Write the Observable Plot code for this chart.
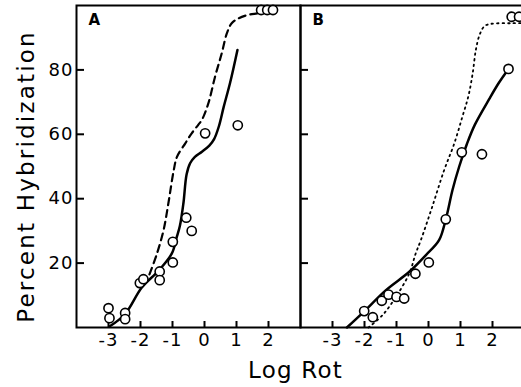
<!DOCTYPE html>
<html><head><meta charset="utf-8">
<script src="https://cdn.jsdelivr.net/npm/d3@7"></script>
<script src="https://cdn.jsdelivr.net/npm/@observablehq/plot@0.6"></script>
<style>body{margin:0;background:#fff}</style>
</head><body><div id="chart"></div>
<script>
const panels = ["A", "B"];
const xTicks = [-3, -2, -1, 0, 1, 2];
const xTickLabels = ["-3", "-2", "-1", "0", "1", "2"];
const yTicks = [20, 40, 60, 80];
const yLabel = "Percent Hybridization";
const xLabel = "Log Rot";

// Panel A observed points
const ptsA_x = [-3.0, -2.97, -2.48, -2.48, -2.02, -1.91, -1.4, -1.4, -0.99, -0.99, -0.57, -0.4, 0.02, 1.04, 1.77, 1.96, 2.14];
const ptsA_y = [6.0, 2.9, 4.5, 2.6, 13.8, 15.0, 17.4, 14.7, 26.6, 20.2, 34.1, 30.0, 60.3, 62.8, 98.6, 98.6, 98.6];
// Panel A solid curve
const solidA_x = [-2.97, -2.48, -1.96, -1.44, -1.02, -0.87, -0.77, -0.66, -0.56, -0.45, -0.3, -0.08, 0.15, 0.3, 0.45, 0.6, 0.8, 1.03];
const solidA_y = [0.3, 4.2, 12.4, 17.6, 23.0, 28.0, 31.5, 38.5, 47.5, 51.0, 53.0, 54.6, 56.5, 58.5, 62.5, 68.5, 76.0, 86.2];
// Panel A dashed curve
const dashA_x = [-1.72, -1.5, -1.28, -1.13, -0.96, -0.86, -0.6, -0.4, -0.19, -0.08, 0.12, 0.33, 0.54, 0.7, 0.85, 1.06, 1.37, 1.69, 2.0];
const dashA_y = [16.5, 22.5, 30.2, 38.5, 48.9, 53.0, 57.2, 60.3, 63.0, 64.5, 69.6, 77.9, 85.2, 91.4, 94.5, 96.0, 97.1, 97.6, 98.3];

// Panel B observed points
const ptsB_x = [-2.01, -1.74, -1.46, -1.25, -1.0, -0.76, -0.41, 0.01, 0.54, 1.04, 1.67, 2.5, 2.6, 2.83];
const ptsB_y = [5.1, 3.2, 8.3, 10.2, 9.5, 9.0, 16.7, 20.2, 33.6, 54.4, 53.8, 80.3, 96.5, 96.5];
// Panel B solid curve
const solidB_x = [-2.55, -2.0, -1.33, -0.6, -0.08, 0.33, 0.54, 0.75, 0.96, 1.2, 1.45, 1.9, 2.2, 2.5];
const solidB_y = [0.0, 5.1, 11.6, 17.3, 22.5, 27.1, 33.6, 42.7, 50.0, 57.0, 63.0, 71.0, 76.0, 80.3];
// Panel B dotted curve
const dotB_x = [-1.88, -1.44, -1.02, -0.6, -0.4, -0.24, 0.1, 0.49, 0.8, 1.06, 1.25, 1.38, 1.48, 1.6, 1.75, 1.95, 2.6, 3.0];
const dotB_y = [0.0, 3.8, 9.5, 16.8, 23.0, 27.1, 37.0, 48.9, 57.0, 65.5, 72.0, 78.9, 86.2, 91.0, 93.6, 94.3, 94.5, 94.5];

const rows = (panel, xs, ys) => xs.map((x, i) => ({panel, x, y: ys[i]}));
const points = [...rows("A", ptsA_x, ptsA_y), ...rows("B", ptsB_x, ptsB_y)];
const solid = [...rows("A", solidA_x, solidA_y), ...rows("B", solidB_x, solidB_y)];
const dashed = rows("A", dashA_x, dashA_y);
const dotted = rows("B", dotB_x, dotB_y);

const chart = Plot.plot({
  width: 521,
  height: 387,
  marginLeft: 76,
  marginRight: -3,
  marginTop: 5,
  marginBottom: 60,
  style: {fontFamily: "DejaVu Sans", background: "white", color: "black", overflow: "hidden"},
  fx: {domain: panels, padding: 0, axis: null},
  x: {domain: [-4, 3]},
  y: {domain: [0, 100]},
  marks: [
    Plot.frame({stroke: "black", strokeWidth: 2}),
    Plot.axisX(xTicks, {tickSize: -6, tickFormat: () => "", strokeWidth: 2, label: null}),
    Plot.axisX(xTicks, {tickSize: 0, tickPadding: 6, fontSize: 18, tickFormat: (d, i) => xTickLabels[i], label: null}),
    Plot.axisY(yTicks, {tickSize: -8, tickFormat: () => "", strokeWidth: 2, facetAnchor: null, label: null}),
    Plot.axisY(yTicks, {tickSize: 0, tickPadding: 3, fontSize: 18, label: null}),
    Plot.line(solid, {fx: "panel", x: "x", y: "y", curve: "catmull-rom", stroke: "black", strokeWidth: 2.5}),
    Plot.line(dashed, {fx: "panel", x: "x", y: "y", curve: "catmull-rom", stroke: "black", strokeWidth: 2.2, strokeDasharray: "7,5"}),
    Plot.line(dotted, {fx: "panel", x: "x", y: "y", curve: "catmull-rom", stroke: "black", strokeWidth: 1.8, strokeDasharray: "1.5,4", strokeLinecap: "round"}),
    Plot.dot(points, {fx: "panel", x: "x", y: "y", r: 4.6, stroke: "black", strokeWidth: 1.6, fill: "white"}),
    Plot.text(panels, {fx: d => d, text: d => d, frameAnchor: "top-left", textAnchor: "start", lineAnchor: "top", dx: 12, dy: 9, fontWeight: "bold", fontSize: 15}),
    Plot.text(["A"], {fx: d => d, text: [yLabel], frameAnchor: "left", textAnchor: "middle", lineAnchor: "middle", rotate: -90, dx: -50, dy: 10, fontSize: 23}),
    Plot.text(["A"], {fx: d => d, text: [xLabel], frameAnchor: "bottom-right", textAnchor: "middle", lineAnchor: "middle", dx: -5, dy: 43, fontSize: 23})
  ]
});
d3.select(chart).selectAll("text").filter(function() { return this.textContent === yLabel; }).attr("letter-spacing", 2.2);
d3.select(chart).selectAll("text").filter(function() { return this.textContent === xLabel; }).attr("letter-spacing", 1.2);
d3.select(chart).selectAll("text").filter(function() { return /^-?\d+$/.test(this.textContent); }).attr("letter-spacing", 1);
document.getElementById("chart").appendChild(chart);
</script>
</body></html>
